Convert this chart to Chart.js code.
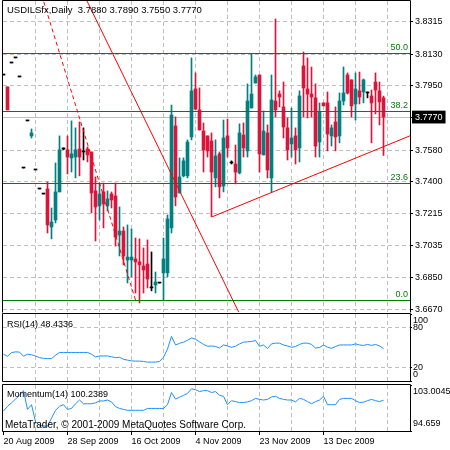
<!DOCTYPE html>
<html>
<head>
<meta charset="utf-8">
<script src="https://cdn.jsdelivr.net/npm/chart.js@4.4.1/dist/chart.umd.min.js"></script>
<style>
  html, body { margin: 0; padding: 0; background: #fff; }
  #wrap { position: relative; width: 450px; height: 450px; overflow: hidden; }
  canvas { position: absolute; left: 0; }
</style>
</head>
<body>
<div id="wrap">
  <canvas id="main" width="450" height="313" style="top:0px"></canvas>
  <canvas id="rsi" width="450" height="69" style="top:313px"></canvas>
  <canvas id="mom" width="450" height="67" style="top:383px"></canvas>
</div>
<script>
const symbol = 'USDILSfx';
const timeframe = 'Daily';

// x axis labels (bar index -> date)
const dateTicks = [0, 16, 32, 48, 64, 80];
const dateLabels = ['20 Aug 2009', '28 Sep 2009', '16 Oct 2009', '4 Nov 2009', '23 Nov 2009', '13 Dec 2009'];

// daily candles
const opens = [3.8011, 3.7943, 3.8080, 3.8109, 3.8000, 3.7478, 3.7748, 3.7662, 3.7467, 3.7358,
  3.7329, 3.7358, 3.7140, 3.7180, 3.7341, 3.7587, 3.7582, 3.7536, 3.7541, 3.7587,
  3.7570, 3.7587, 3.7570, 3.7347, 3.7261, 3.7341, 3.7261, 3.7329, 3.7318, 3.7094,
  3.7117, 3.6951, 3.6951, 3.6957, 3.6940, 3.6917, 3.6928, 3.6791, 3.6808, 3.6819,
  3.6877, 3.6877, 3.7135, 3.7719, 3.7335, 3.7433, 3.7433, 3.7656, 3.7931, 3.7811,
  3.7690, 3.7662, 3.7633, 3.7421, 3.7559, 3.7375, 3.7662, 3.7507, 3.7501, 3.7450,
  3.7667, 3.7576, 3.7822, 3.7965, 3.8011, 3.7553, 3.7679, 3.7421, 3.7862, 3.7902,
  3.7828, 3.7708, 3.7616, 3.7662, 3.7593, 3.8063, 3.7931, 3.7902, 3.7880, 3.7627,
  3.7851, 3.7851, 3.7662, 3.7742, 3.7662, 3.7862, 3.8011, 3.7983, 3.7845, 3.7920,
  3.7914, 3.7908, 3.7891, 3.7971, 3.7920, 3.7880];
const highs = [3.8011, 3.7943, 3.8080, 3.8109, 3.8000, 3.7478, 3.7748, 3.7702, 3.7467, 3.7358,
  3.7329, 3.7398, 3.7249, 3.7507, 3.7662, 3.7593, 3.7662, 3.7748, 3.7708, 3.7742,
  3.7708, 3.7599, 3.7570, 3.7427, 3.7392, 3.7392, 3.7347, 3.7341, 3.7392, 3.7255,
  3.7140, 3.7152, 3.7129, 3.7077, 3.7072, 3.7020, 3.7066, 3.6997, 3.6882, 3.6819,
  3.7077, 3.7209, 3.7839, 3.7771, 3.7536, 3.7536, 3.7639, 3.8109, 3.8023, 3.7937,
  3.7736, 3.7662, 3.7679, 3.7639, 3.7570, 3.7753, 3.7759, 3.7519, 3.7610, 3.7731,
  3.7736, 3.7960, 3.8132, 3.8011, 3.8011, 3.7805, 3.7725, 3.8011, 3.8332, 3.7920,
  3.7971, 3.7765, 3.7822, 3.7708, 3.7920, 3.8143, 3.8109, 3.8057, 3.7960, 3.7851,
  3.7851, 3.7914, 3.7725, 3.7828, 3.7908, 3.8057, 3.8023, 3.7983, 3.8023, 3.8028,
  3.7988, 3.7914, 3.7925, 3.8023, 3.7971, 3.7890];
const lows = [3.8011, 3.7811, 3.8080, 3.8109, 3.8000, 3.7478, 3.7748, 3.7650, 3.7467, 3.7358,
  3.7329, 3.7106, 3.7072, 3.7163, 3.7341, 3.7582, 3.7444, 3.7455, 3.7421, 3.7433,
  3.7524, 3.7513, 3.7221, 3.7060, 3.7180, 3.7135, 3.7232, 3.7249, 3.7031, 3.6974,
  3.6923, 3.6819, 3.6854, 3.6762, 3.6705, 3.6762, 3.6791, 3.6774, 3.6762, 3.6819,
  3.6722, 3.6854, 3.7106, 3.7261, 3.7335, 3.7427, 3.7421, 3.7639, 3.7811, 3.7696,
  3.7455, 3.7541, 3.7200, 3.7370, 3.7307, 3.7341, 3.7541, 3.7501, 3.7387, 3.7444,
  3.7541, 3.7541, 3.7822, 3.7965, 3.7455, 3.7553, 3.7421, 3.7341, 3.7771, 3.7828,
  3.7650, 3.7524, 3.7541, 3.7501, 3.7513, 3.7771, 3.7765, 3.7771, 3.7541, 3.7541,
  3.7834, 3.7576, 3.7604, 3.7576, 3.7622, 3.7839, 3.7902, 3.7771, 3.7753, 3.7845,
  3.7851, 3.7880, 3.7622, 3.7788, 3.7725, 3.7550];
const closes = [3.8011, 3.7811, 3.8080, 3.8109, 3.8000, 3.7478, 3.7748, 3.7679, 3.7467, 3.7358,
  3.7329, 3.7152, 3.7169, 3.7341, 3.7582, 3.7587, 3.7541, 3.7559, 3.7582, 3.7541,
  3.7570, 3.7553, 3.7335, 3.7255, 3.7329, 3.7272, 3.7301, 3.7295, 3.7083, 3.7117,
  3.6974, 3.6968, 3.6968, 3.6940, 3.6923, 3.6894, 3.6842, 3.6791, 3.6825, 3.6819,
  3.6957, 3.7186, 3.7782, 3.7312, 3.7427, 3.7519, 3.7627, 3.7920, 3.7816, 3.7696,
  3.7582, 3.7576, 3.7455, 3.7547, 3.7370, 3.7650, 3.7593, 3.7507, 3.7455, 3.7679,
  3.7593, 3.7862, 3.7902, 3.8000, 3.7559, 3.7690, 3.7467, 3.7868, 3.7811, 3.7885,
  3.7713, 3.7582, 3.7650, 3.7582, 3.7891, 3.7937, 3.7902, 3.7885, 3.7604, 3.7799,
  3.7834, 3.7673, 3.7708, 3.7656, 3.7862, 3.7908, 3.7908, 3.7834, 3.7931, 3.7885,
  3.7983, 3.7908, 3.7851, 3.7925, 3.7857, 3.7770];

const rsiValues = [40.0, 36.9, 42.3, 43.5, 43.1, 36.9, 40.0, 39.2, 37.4, 34.9,
  33.8, 33.4, 33.4, 38.5, 42.6, 42.6, 42.6, 42.6, 42.6, 42.6,
  42.6, 42.6, 40.0, 35.8, 37.4, 37.4, 37.4, 36.2, 34.9, 35.4,
  32.3, 31.2, 30.0, 29.7, 29.7, 29.2, 28.2, 28.2, 28.2, 29.2,
  35.4, 47.7, 66.6, 53.8, 56.2, 58.0, 60.8, 64.2, 62.3, 58.5,
  54.6, 51.8, 52.3, 51.5, 49.2, 53.8, 52.3, 50.3, 51.8, 55.4,
  58.0, 58.5, 58.9, 60.5, 51.8, 53.8, 48.5, 55.4, 56.5, 56.5,
  53.8, 52.3, 50.3, 51.5, 54.6, 56.5, 56.5, 54.6, 49.2, 50.0,
  53.8, 50.3, 48.8, 51.5, 53.8, 53.8, 53.8, 53.8, 55.4, 53.8,
  53.1, 54.6, 53.1, 54.6, 52.3, 48.4336];

const momValues = [98.29, 99.14, 99.77, 100.45, 101.13, 101.98, 98.58, 99.43, 96.36, 95.68,
  95.60, 95.51, 97.00, 98.40, 99.14, 99.43, 98.58, 98.75, 99.60, 100.28,
  99.60, 99.60, 99.60, 99.77, 100.11, 100.11, 100.28, 99.94, 99.09, 98.75,
  98.58, 98.41, 98.41, 98.41, 98.41, 98.41, 98.75, 98.75, 98.75, 98.75,
  98.75, 99.43, 101.64, 100.45, 100.79, 101.13, 101.47, 102.32, 102.15, 101.81,
  101.98, 101.98, 101.64, 101.81, 101.13, 100.96, 99.43, 100.16, 99.99, 99.82,
  99.82, 99.94, 100.16, 100.57, 100.40, 100.28, 100.40, 100.84, 100.96, 100.57,
  100.40, 100.28, 100.28, 99.94, 100.57, 100.40, 99.99, 99.60, 99.99, 100.28,
  100.96, 99.43, 99.43, 99.43, 100.40, 100.57, 100.57, 100.57, 100.16, 99.82,
  99.89, 100.16, 100.40, 100.16, 99.99, 100.2389];

// axes
const priceRange = [3.6653, 3.8435];
const priceTicks = [3.8315, 3.8130, 3.7950, 3.7770, 3.7580, 3.7400, 3.7215, 3.7035, 3.6850, 3.6670];
const bidPrice = 3.7770;
const rsiRange = [0, 100];
const rsiLevels = [20, 80];
const momRange = [94.659, 103.0045];

// objects on the chart (anchor points: bar index, price)
const fibLevels = [0.0, 23.6, 38.2, 50.0];
const fibAnchors = [{x: 33, y: 3.6722}, {x: -5, y: 3.9552}];   // 0% and 100%
const trendDown = [{x: 20, y: 3.8476}, {x: 60, y: 3.6596}];
const trendUp = [{x: 52, y: 3.7197}, {x: 102, y: 3.7666}];

const BULL = '#008080', BEAR = '#dc143c', DOJI = '#000000';
const GRID = '#c0c0c0', FIB = '#008000', TREND = '#ff0000', IND = '#1e90ff';
const NONE = 'rgba(0,0,0,0)';
const FONT = "'Liberation Sans', Arial, sans-serif";
const X_MIN = -0.125, X_MAX = 101.625, GRID_STEP = 8;

Chart.defaults.font.family = FONT;
Chart.defaults.color = '#000';

const last = closes.length - 1;
const bars = closes.map((_, i) => i);
const candleColors = bars.map(i => closes[i] > opens[i] ? BULL : (closes[i] < opens[i] ? BEAR : DOJI));

function zeroPad(s) {
  s.paddingTop = 0; s.paddingBottom = 0; s.paddingLeft = 0; s.paddingRight = 0;
}

function gridValues(fromZero) {
  const out = [];
  for (let v = fromZero ? 0 : GRID_STEP; v <= X_MAX; v += GRID_STEP) out.push(v);
  return out;
}

function xAxis(withLabels) {
  return {
    type: 'linear', min: X_MIN, max: X_MAX, offset: false,
    afterBuildTicks: s => { s.ticks = gridValues(withLabels).map(v => ({value: v})); },
    afterFit: s => { s.height = withLabels ? 19 : 0; zeroPad(s); },
    grid: {
      offset: false,
      color: c => (c.tick && c.tick.value > 0) ? GRID : NONE,
      drawTicks: withLabels, tickLength: 4,
      tickColor: c => (c.tick && dateTicks.includes(c.tick.value)) ? '#000' : NONE
    },
    border: { display: false, dash: [4, 3] },
    ticks: {
      display: withLabels, autoSkip: false, maxRotation: 0, minRotation: 0,
      align: 'start', padding: 1, font: { size: 9 },
      callback: v => { const k = dateTicks.indexOf(v); return k >= 0 ? dateLabels[k] : ''; }
    }
  };
}

// simple plugins: panel frame, free text, fibonacci levels
function framePlugin(drawBottom) {
  return {
    id: 'frame',
    afterDraw(chart) {
      const {ctx, chartArea: a} = chart;
      const l = a.left - 0.5, r = a.right + 0.5, t = a.top - 0.5, b = a.bottom + 0.5;
      ctx.save();
      ctx.strokeStyle = '#000';
      ctx.lineWidth = 1;
      ctx.beginPath();
      ctx.moveTo(l, b); ctx.lineTo(l, t); ctx.lineTo(r, t); ctx.lineTo(r, b);
      if (drawBottom) ctx.lineTo(l, b);
      ctx.stroke();
      ctx.restore();
    }
  };
}

function textPlugin(items) {
  return {
    id: 'texts',
    afterDraw(chart) {
      const {ctx, chartArea: a} = chart;
      ctx.save();
      ctx.textBaseline = 'middle';
      items.forEach(it => {
        ctx.font = it.size + 'px ' + FONT;
        ctx.fillStyle = it.color || '#000';
        ctx.textAlign = 'left';
        const x = it.right ? a.right + it.dx : a.left + it.dx;
        const y = it.bottom ? a.bottom + it.dy : a.top + it.dy;
        ctx.fillText(it.text, x, y);
      });
      ctx.restore();
    }
  };
}

const fibPlugin = {
  id: 'fib',
  afterDatasetsDraw(chart) {
    const {ctx, chartArea: a} = chart;
    const y = chart.scales.y;
    const lo = fibAnchors[0].y, hi = fibAnchors[1].y;
    ctx.save();
    ctx.strokeStyle = FIB;
    ctx.fillStyle = FIB;
    ctx.lineWidth = 1;
    ctx.font = '9px ' + FONT;
    ctx.textAlign = 'right';
    ctx.textBaseline = 'bottom';
    fibLevels.forEach(lv => {
      const py = Math.round(y.getPixelForValue(lo + (hi - lo) * lv / 100)) + 0.5;
      ctx.beginPath();
      ctx.moveTo(a.left, py);
      ctx.lineTo(a.right, py);
      ctx.stroke();
      ctx.fillText(lv.toFixed(1), a.right - 2, py - 1);
    });
    ctx.restore();
  }
};

const isBid = c => c.tick && Math.abs(c.tick.value - bidPrice) < 1e-9;

const common = {
  responsive: false,
  animation: false,
  events: [],
  plugins: { legend: { display: false }, tooltip: { enabled: false } }
};

// main price window
new Chart(document.getElementById('main'), {
  type: 'bar',
  data: {
    datasets: [
      { type: 'line', data: trendDown, borderColor: TREND, borderWidth: 1, pointRadius: 0, tension: 0 },
      { type: 'line', data: trendUp, borderColor: TREND, borderWidth: 1, pointRadius: 0, tension: 0 },
      { type: 'line', data: fibAnchors, borderColor: TREND, borderWidth: 1, borderDash: [4, 3], pointRadius: 0, tension: 0 },
      {
        data: bars.map(i => ({x: i, y: [opens[i], closes[i]]})),
        backgroundColor: candleColors, borderWidth: 0,
        barThickness: 3, maxBarThickness: 3, minBarLength: 1, grouped: false
      },
      {
        data: bars.map(i => ({x: i, y: [lows[i], highs[i]]})),
        backgroundColor: candleColors, borderWidth: 0,
        barThickness: 1, maxBarThickness: 1, grouped: false
      }
    ]
  },
  options: {
    ...common,
    layout: { padding: { left: 3, top: 1, right: 0, bottom: 1 } },
    scales: {
      x: xAxis(false),
      y: {
        position: 'right', min: priceRange[0], max: priceRange[1], beginAtZero: false,
        afterBuildTicks: s => { s.ticks = priceTicks.map(v => ({value: v})); },
        afterFit: s => { s.width = 40; zeroPad(s); },
        grid: { color: GRID, tickLength: 3, tickColor: '#000' },
        border: { display: false, dash: c => isBid(c) ? [] : [4, 3] },
        ticks: {
          padding: 2, autoSkip: false, font: { size: 9 },
          color: c => isBid(c) ? '#fff' : '#000',
          showLabelBackdrop: c => !!isBid(c),
          backdropColor: c => isBid(c) ? '#000' : NONE,
          backdropPadding: { x: 3, y: 1 },
          callback: v => v.toFixed(4)
        }
      }
    }
  },
  plugins: [
    fibPlugin,
    framePlugin(false),
    textPlugin([
      { text: symbol + ',' + timeframe + '  ' + [opens[last], highs[last], lows[last], closes[last]].map(v => v.toFixed(4)).join(' '),
        size: 9.5, dx: 4, dy: 9.5 }
    ])
  ]
});

// RSI window
new Chart(document.getElementById('rsi'), {
  type: 'line',
  data: {
    datasets: [{ data: bars.map(i => ({x: i, y: rsiValues[i]})), borderColor: IND, borderWidth: 1, pointRadius: 0, tension: 0 }]
  },
  options: {
    ...common,
    layout: { padding: { left: 3, top: 1, right: 0, bottom: 1 } },
    scales: {
      x: xAxis(false),
      y: {
        position: 'right', min: rsiRange[0], max: rsiRange[1],
        afterBuildTicks: s => { s.ticks = [rsiRange[0], ...rsiLevels, rsiRange[1]].map(v => ({value: v})); },
        afterFit: s => { s.width = 40; zeroPad(s); },
        grid: { color: c => (c.tick && rsiLevels.includes(c.tick.value)) ? GRID : NONE, tickLength: 2, tickColor: '#000' },
        border: { display: false, dash: [4, 3] },
        ticks: { padding: 1, autoSkip: false, font: { size: 9 }, callback: v => rsiLevels.includes(v) ? String(v) : '' }
      }
    }
  },
  plugins: [
    framePlugin(true),
    textPlugin([
      { text: 'RSI(14) ' + rsiValues[last].toFixed(4), size: 9, dx: 4, dy: 11 },
      { text: String(rsiRange[1]), size: 9, right: true, dx: 3, dy: 7 },
      { text: String(rsiRange[0]), size: 9, right: true, bottom: true, dx: 3, dy: -6 }
    ])
  ]
});

// Momentum window with the date axis
new Chart(document.getElementById('mom'), {
  type: 'line',
  data: {
    datasets: [{ data: bars.map(i => ({x: i, y: momValues[i]})), borderColor: IND, borderWidth: 1, pointRadius: 0, tension: 0 }]
  },
  options: {
    ...common,
    layout: { padding: { left: 3, top: 2, right: 0, bottom: 0 } },
    scales: {
      x: xAxis(true),
      y: {
        position: 'right', min: momRange[0], max: momRange[1],
        afterBuildTicks: s => { s.ticks = momRange.map(v => ({value: v})); },
        afterFit: s => { s.width = 40; zeroPad(s); },
        grid: { color: NONE, tickLength: 2, tickColor: '#000' },
        border: { display: false },
        ticks: { padding: 1, autoSkip: false, font: { size: 9 }, callback: () => '' }
      }
    }
  },
  plugins: [
    framePlugin(true),
    textPlugin([
      { text: 'Momentum(14) ' + momValues[last].toFixed(4), size: 9, dx: 4, dy: 9.5 },
      { text: 'MetaTrader, \u00a9 2001-2009 MetaQuotes Software Corp.', size: 10, dx: 2, bottom: true, dy: -6 },
      { text: String(momRange[1]), size: 9, right: true, dx: 3, dy: 7 },
      { text: String(momRange[0]), size: 9, right: true, bottom: true, dx: 3, dy: -7 }
    ])
  ]
});
</script>
</body>
</html>
